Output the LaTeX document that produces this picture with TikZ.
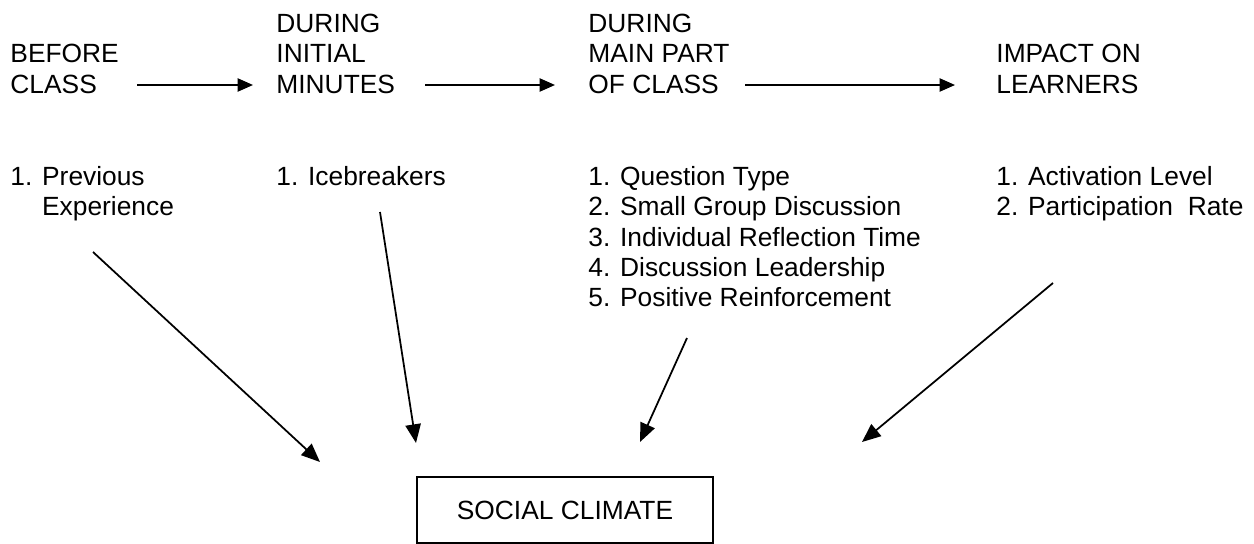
\documentclass[tikz,border=0pt]{standalone}
\usepackage{fontspec}
\setmainfont{Liberation Sans}
\usetikzlibrary{positioning,arrows.meta}
\tikzset{
  phase/.style   = {anchor=base west, align=left, inner sep=0pt,
                    font=\fontsize{12}{13.8}\selectfont},
  items/.style   = {anchor=north west, align=left, inner sep=0pt,
                    font=\fontsize{12}{13.8}\selectfont},
  climate/.style = {rectangle, draw, line width=0.9pt, minimum width=4.74cm,
                    minimum height=1.06cm, font=\fontsize{12}{14}\selectfont},
  flow/.style    = {-{Triangle[length=7pt,width=6pt]}, line width=0.8pt},
  link/.style    = {-{Triangle[length=8.5pt,width=7pt]}, line width=0.8pt},
}

\begin{document}
\begin{tikzpicture}[x=0.016cm, y=-0.016cm]
  \useasboundingbox (0,0) rectangle (1254,544);

  % phases along the top (base = last line)
  \node[phase] (before)   at (10,93)  {BEFORE\\CLASS};
  \node[phase] (initial)  at (276,93) {DURING\\INITIAL\\MINUTES};
  \node[phase] (mainpart) at (588,93) {DURING\\MAIN PART\\OF CLASS};
  \node[phase] (impact)   at (996,93) {IMPACT ON\\LEARNERS};

  % factors under each phase
  \node[items] (prevexp)  at (10,166)  {1. Previous\\\phantom{1. }Experience};
  \node[items] (icebreak) at (276,166) {1. Icebreakers};
  \node[items] (mainlist) at (588,166) {1. Question Type\\2. Small Group Discussion\\3. Individual Reflection Time\\4. Discussion Leadership\\5. Positive Reinforcement};
  \node[items] (learners) at (996,166) {1. Activation Level\\2. Participation~~Rate};

  \node[climate] (social) at (565,510) {SOCIAL CLIMATE};

  % arrow ends
  \coordinate (f1a) at (137,85);  \coordinate (f1b) at (253,85);
  \coordinate (f2a) at (425,85);  \coordinate (f2b) at (555,85);
  \coordinate (f3a) at (745,85);  \coordinate (f3b) at (955,85);
  \coordinate (prevtail) at (93,252);   \coordinate (prevhead) at (320,462);
  \coordinate (icetail)  at (380,212);  \coordinate (icehead)  at (416,443);
  \coordinate (maintail) at (687,338);  \coordinate (mainhead) at (640,442);
  \coordinate (imptail)  at (1053,283); \coordinate (imphead)  at (862,442);

  % arrows
  \draw[flow] (f1a) -- (f1b);
  \draw[flow] (f2a) -- (f2b);
  \draw[flow] (f3a) -- (f3b);
  \draw[link] (prevtail) -- (prevhead);
  \draw[link] (icetail) -- (icehead);
  \draw[link] (maintail) -- (mainhead);
  \draw[link] (imptail) -- (imphead);
\end{tikzpicture}
\end{document}
